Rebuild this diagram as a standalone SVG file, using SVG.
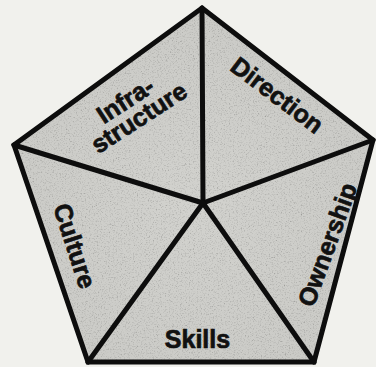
<svg xmlns="http://www.w3.org/2000/svg" width="376" height="367" viewBox="0 0 376 367">
  <defs>
    <filter id="grain" x="0" y="0" width="100%" height="100%" filterUnits="objectBoundingBox">
      <feTurbulence type="fractalNoise" baseFrequency="0.75" numOctaves="2" seed="7" result="noise"/>
      <feColorMatrix in="noise" type="matrix" values="0.33 0.33 0.33 0 0  0.33 0.33 0.33 0 0  0.33 0.33 0.33 0 0  0 0 0 0 1" result="gray"/>
      <feComponentTransfer in="gray" result="g2">
        <feFuncR type="linear" slope="1.6" intercept="0.2"/>
        <feFuncG type="linear" slope="1.6" intercept="0.2"/>
        <feFuncB type="linear" slope="1.6" intercept="0.2"/>
      </feComponentTransfer>
      <feBlend in="SourceGraphic" in2="g2" mode="multiply" result="b"/>
      <feComposite in="b" in2="SourceGraphic" operator="in"/>
    </filter>
    <radialGradient id="shade" cx="0.5" cy="0.55" r="0.6">
      <stop offset="0" stop-color="#d2d2ce"/>
      <stop offset="1" stop-color="#cacac6"/>
    </radialGradient>
  </defs>
  <style>
    .lbl { font-family: "Liberation Sans", Arial, sans-serif; font-weight: bold; font-size: 25px; fill: #111; stroke: #111; stroke-width: 0.7; text-anchor: middle; }
    .edge { fill: none; stroke: #0d0d0d; stroke-width: 5; stroke-linejoin: miter; stroke-linecap: round; }
  </style>
  <rect width="376" height="367" fill="#f1f1ed"/>
  <polygon points="202,8 373,140 314,362 88,362 14,145" fill="url(#shade)" filter="url(#grain)"/>

  <g id="connectors">
    <line class="edge" x1="203" y1="203" x2="202" y2="8"/>
    <line class="edge" x1="203" y1="203" x2="373" y2="140"/>
    <line class="edge" x1="203" y1="203" x2="314" y2="362"/>
    <line class="edge" x1="203" y1="203" x2="88" y2="362"/>
    <line class="edge" x1="203" y1="203" x2="14" y2="145"/>
    <polygon class="edge" points="202,8 373,140 314,362 88,362 14,145"/>
  </g>

  <g id="infrastructure">
    <g transform="translate(130,107.5) rotate(-33)">
      <text class="lbl" x="0" y="0">Infra-</text>
      <text class="lbl" x="2" y="22">structure</text>
    </g>
  </g>
  <g id="direction">
    <text class="lbl" transform="translate(272,102) rotate(37)">Direction</text>
  </g>
  <g id="ownership">
    <text class="lbl" transform="translate(335.5,247.5) rotate(-70)">Ownership</text>
  </g>
  <g id="skills">
    <text class="lbl" x="197.5" y="348">Skills</text>
  </g>
  <g id="culture">
    <text class="lbl" transform="translate(66.5,248.5) rotate(72)">Culture</text>
  </g>
</svg>
